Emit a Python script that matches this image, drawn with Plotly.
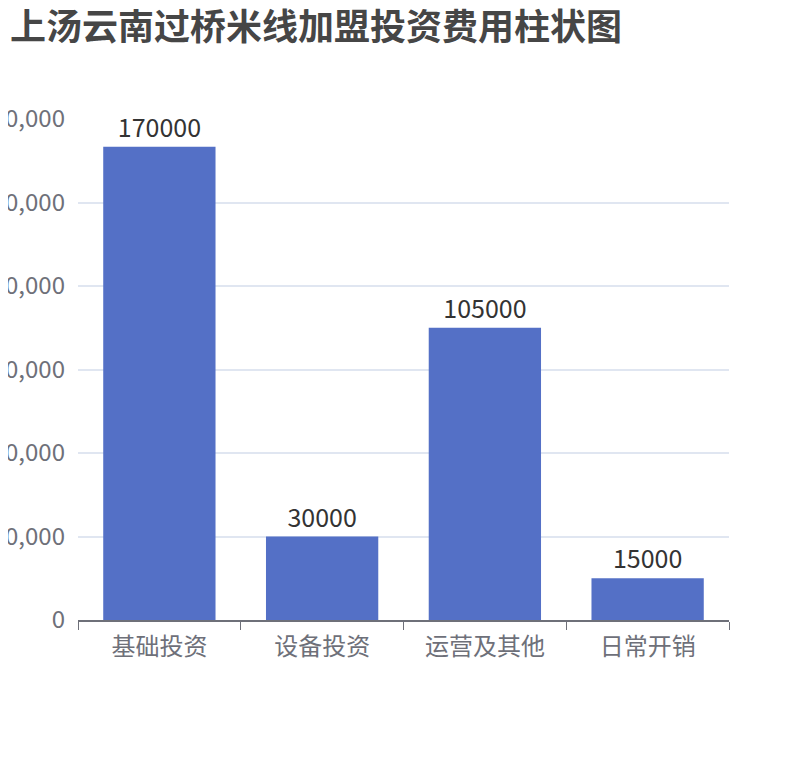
import plotly.graph_objects as go

# chart data
categories = ["基础投资", "设备投资", "运营及其他", "日常开销"]
costs = [170000, 30000, 105000, 15000]
title_text = "上汤云南过桥米线加盟投资费用柱状图"

FONT = "Noto Sans CJK SC"

fig = go.Figure()

fig.add_trace(
    go.Bar(
        x=categories,
        y=costs,
        marker=dict(color="#5470C6", line=dict(width=0)),
        text=[str(v) for v in costs],
        textposition="outside",
        textfont=dict(family=FONT, size=25, color="#333333"),
        cliponaxis=False,
    )
)

fig.update_layout(
    width=810,
    height=760,
    margin=dict(l=70, r=89, t=111, b=148),
    paper_bgcolor="white",
    plot_bgcolor="white",
    showlegend=False,
    bargap=0.31,
    title=dict(
        text="<b>" + title_text + "</b>",
        x=2 / 810,
        xanchor="left",
        y=1 - 19 / 760,
        yanchor="middle",
        font=dict(family=FONT, size=36, color="#464646"),
    ),
    xaxis=dict(
        showgrid=False,
        showline=True,
        linecolor="#6E7079",
        linewidth=1.5,
        ticks="outside",
        tickson="boundaries",
        ticklen=8,
        tickcolor="#6E7079",
        ticklabelstandoff=4,
        tickfont=dict(family=FONT, size=24, color="#6E7079"),
        automargin=False,
    ),
    yaxis=dict(
        range=[0, 180000],
        dtick=30000,
        tickformat=",",
        showgrid=True,
        gridcolor="#E0E6F1",
        gridwidth=1.5,
        zeroline=False,
        showline=False,
        ticks="",
        ticklabelstandoff=12,
        tickfont=dict(family=FONT, size=24, color="#6E7079"),
        automargin=False,
    ),
)

fig.write_html("out.html")
